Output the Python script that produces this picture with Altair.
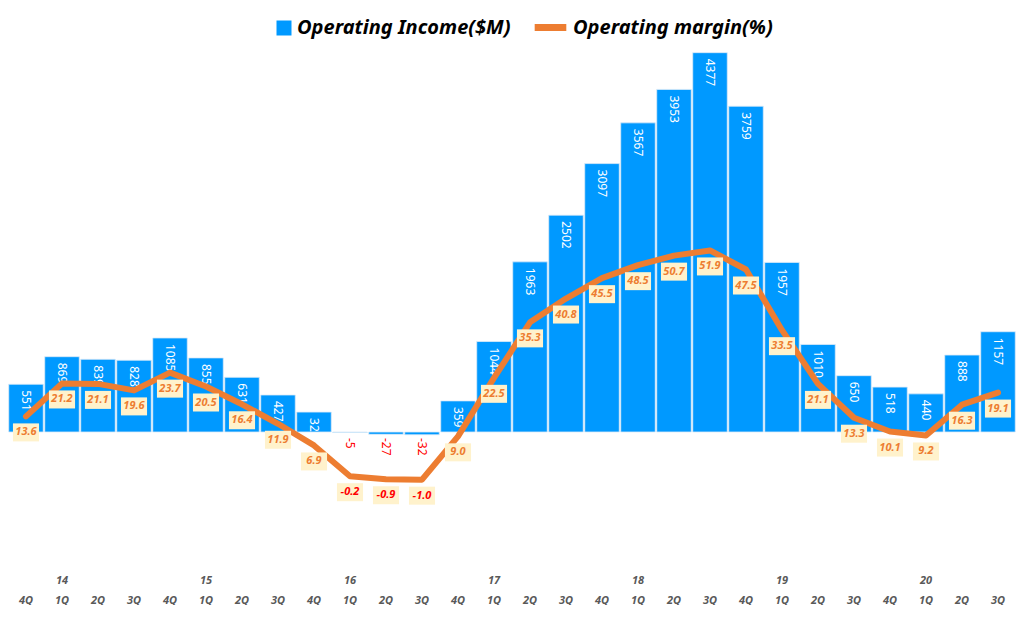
import altair as alt
import pandas as pd

quarters = ["4Q", "1Q", "2Q", "3Q", "4Q", "1Q", "2Q", "3Q", "4Q", "1Q", "2Q", "3Q", "4Q", "1Q",
            "2Q", "3Q", "4Q", "1Q", "2Q", "3Q", "4Q", "1Q", "2Q", "3Q", "4Q", "1Q", "2Q", "3Q"]
years = ["13", "14", "14", "14", "14", "15", "15", "15", "15", "16", "16", "16", "16", "17",
         "17", "17", "17", "18", "18", "18", "18", "19", "19", "19", "19", "20", "20", "20"]
# bar heights as drawn
income = [551, 869, 839, 828, 1085, 855, 631, 427, 230, -5, -27, -32, 359, 1044,
          1963, 2502, 3097, 3567, 3953, 4377, 3759, 1957, 1010, 650, 518, 440, 888, 1157]
# bar labels as printed
income_labels = ["551", "869", "839", "828", "1085", "855", "631", "427", "32", "-5", "-27", "-32", "359", "1044",
                 "1963", "2502", "3097", "3567", "3953", "4377", "3759", "1957", "1010", "650", "518", "440", "888", "1157"]
margin = [13.6, 21.2, 21.1, 19.6, 23.7, 20.5, 16.4, 11.9, 6.9, -0.2, -0.9, -1.0, 9.0, 22.5,
          35.3, 40.8, 45.5, 48.5, 50.7, 51.9, 47.5, 33.5, 21.1, 13.3, 10.1, 9.2, 16.3, 19.1]

SER_BAR = "Operating Income($M)"
SER_LINE = "Operating margin(%)"
BLUE = "#0099FF"
ORANGE = "#ED7D31"
FONT = "Noto Sans"

df = pd.DataFrame({
    "key": [f"{q}|{y}" for q, y in zip(quarters, years)],
    "income": income,
    "inclabel": income_labels,
    "margin": margin,
    "marglabel": [f"{m:.1f}" for m in margin],
})
df["labelpos"] = df["income"].clip(lower=0)

x_enc = alt.X(
    "key:N", sort=None, title=None,
    scale=alt.Scale(paddingInner=0.04, paddingOuter=0.02),
    axis=alt.Axis(
        labelAngle=0, ticks=False, domain=False, grid=False,
        labelColor="#595959", labelFont=FONT, labelFontStyle="italic",
        labelFontWeight="bold", labelFontSize=11, labelLineHeight=20, labelPadding=12,
        labelExpr="[slice(datum.value,0,2)=='1Q' ? slice(datum.value,3) : '', slice(datum.value,0,2)]",
    ),
)

ybar = alt.Scale(domain=[-1500, 4500])
yline = alt.Scale(domain=[-20, 100])

legend_common = dict(
    title=None, orient="none", direction="horizontal",
    labelFont=FONT, labelFontSize=20, labelFontWeight="bold", labelFontStyle="italic",
    labelColor="#000000", labelLimit=400, labelOffset=3,
)

base = alt.Chart(df)

bars = base.transform_calculate(series=f"'{SER_BAR}'").mark_bar(
    stroke="#DDEBF7", strokeWidth=0.8
).encode(
    x=x_enc,
    y=alt.Y("income:Q", scale=ybar, axis=None),
    color=alt.Color(
        "series:N", scale=alt.Scale(domain=[SER_BAR], range=[BLUE]),
        legend=alt.Legend(legendX=266, legendY=-24, symbolType="square", symbolSize=225,
                          symbolStrokeWidth=0, **legend_common),
    ),
)

bar_text = base.mark_text(
    angle=90, align="left", baseline="middle", fontSize=12, font=FONT, yOffset=6
).encode(
    x=x_enc,
    y=alt.Y("labelpos:Q", scale=ybar, axis=None),
    text="inclabel:N",
    color=alt.condition("datum.income > 0", alt.value("#FFFFFF"), alt.value("#FF0000")),
)

line = base.transform_calculate(series=f"'{SER_LINE}'").mark_line(
    strokeWidth=6, strokeCap="round", strokeJoin="round"
).encode(
    x=x_enc,
    y=alt.Y("margin:Q", scale=yline, axis=None),
    stroke=alt.Stroke(
        "series:N", scale=alt.Scale(domain=[SER_LINE], range=[ORANGE]),
        legend=alt.Legend(legendX=523, legendY=-34, symbolType="stroke", symbolSize=1000,
                          symbolStrokeWidth=7, **legend_common),
    ),
)

boxes = base.mark_point(
    shape="M-1.45,-1H1.45V1H-1.45Z", filled=True, size=324, color="#FFF2CC", opacity=1, yOffset=16
).encode(
    x=x_enc,
    y=alt.Y("margin:Q", scale=yline, axis=None),
)

line_text = base.mark_text(
    fontSize=11, font=FONT, fontWeight="bold", fontStyle="italic", yOffset=16, baseline="middle"
).encode(
    x=x_enc,
    y=alt.Y("margin:Q", scale=yline, axis=None),
    text="marglabel:N",
    color=alt.condition("datum.margin < 0", alt.value("#FF0000"), alt.value(ORANGE)),
)

chart = alt.layer(bars, bar_text, line, boxes, line_text).resolve_scale(
    y="independent"
).properties(
    width=1008, height=520,
    padding={"left": 0, "top": 0, "right": 0, "bottom": 0},
).configure_view(stroke=None)

chart.save("out.html", embed_options={"renderer": "svg", "actions": False})
